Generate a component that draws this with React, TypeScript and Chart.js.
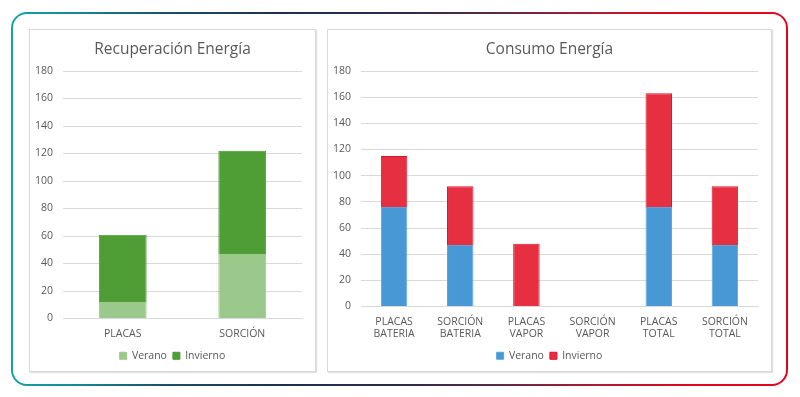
import React, { useEffect, useRef } from 'react';
import { Chart, registerables } from 'chart.js';

Chart.register(...registerables);

// ---- Data ----
const recTitle = 'Recuperación Energía';
const recCategories = ['PLACAS', 'SORCIÓN'];
const recVerano = [12, 47];
const recInvierno = [49, 75];

const conTitle = 'Consumo Energía';
const conCategories = [
  ['PLACAS', 'BATERIA'],
  ['SORCIÓN', 'BATERIA'],
  ['PLACAS', 'VAPOR'],
  ['SORCIÓN', 'VAPOR'],
  ['PLACAS', 'TOTAL'],
  ['SORCIÓN', 'TOTAL'],
];
const conVerano = [76, 47, 0, 0, 76, 47];
const conInvierno = [39, 45, 48, 0, 87, 45];

const seriesNames = ['Verano', 'Invierno'];
const yMax = 180;
const yStep = 20;

const FONT = "'Open Sans', 'Noto Sans', sans-serif";
const TEXT = '#595959';
const GRID = '#d9d9d9';

type PanelProps = {
  title: string;
  labels: any[];
  verano: number[];
  invierno: number[];
  colors: { verano: string; veranoBorder: string; invierno: string; inviernoBorder: string };
  width: number;
  height: number;
  xHeight: number;
};

function BarChart({ title, labels, verano, invierno, colors, width, height, xHeight }: PanelProps) {
  const ref = useRef<HTMLCanvasElement>(null);
  useEffect(() => {
    if (!ref.current) return;
    const bw = (c: any) => (c.raw ? 1 : 0);
    const chart = new Chart(ref.current, {
      type: 'bar',
      data: {
        labels,
        datasets: [
          {
            label: seriesNames[0],
            data: verano,
            backgroundColor: colors.verano,
            borderColor: colors.veranoBorder,
            borderWidth: bw,
            categoryPercentage: 0.8,
            barPercentage: 0.5,
          },
          {
            label: seriesNames[1],
            data: invierno,
            backgroundColor: colors.invierno,
            borderColor: colors.inviernoBorder,
            borderWidth: bw,
            categoryPercentage: 0.8,
            barPercentage: 0.5,
          },
        ],
      },
      options: {
        animation: false,
        responsive: false,
        maintainAspectRatio: false,
        layout: { padding: { left: 0, right: 0, top: 0, bottom: 0 } },
        plugins: {
          title: {
            display: true,
            text: title,
            color: TEXT,
            font: { family: FONT, size: 15.5, weight: 'normal' as any },
            padding: { top: 10, bottom: 12.4 },
          },
          legend: {
            position: 'bottom',
            labels: {
              color: TEXT,
              font: { family: FONT, size: 10.5 },
              boxWidth: 7,
              boxHeight: 7,
              padding: 6,
            },
          },
          tooltip: { enabled: false },
        },
        scales: {
          x: {
            stacked: true,
            grid: { display: false, drawTicks: false },
            border: { display: true, color: GRID, width: 1 },
            ticks: {
              color: TEXT,
              font: { family: FONT, size: 10.5, lineHeight: 1.15 },
              padding: 9,
              maxRotation: 0,
              autoSkip: false,
            },
            afterFit: (s: any) => {
              s.height = xHeight;
            },
          },
          y: {
            stacked: true,
            min: 0,
            max: yMax,
            grid: { color: GRID, drawTicks: false, lineWidth: 1 },
            border: { display: false },
            ticks: {
              stepSize: yStep,
              color: TEXT,
              font: { family: FONT, size: 10.5 },
              padding: 10,
            },
            afterFit: (s: any) => {
              s.width = 33;
            },
          },
          yRight: {
            type: 'linear',
            position: 'right',
            display: true,
            min: 0,
            max: yMax,
            grid: { display: false, drawTicks: false },
            border: { display: false },
            ticks: { display: false },
            afterFit: (s: any) => {
              s.width = 13;
            },
          },
        },
      },
    });
    return () => chart.destroy();
  }, []);
  return <canvas ref={ref} width={width} height={height} style={{ display: 'block', width, height }} />;
}

const green = { verano: '#9bc98b', veranoBorder: '#9bc98b', invierno: '#4e9e35', inviernoBorder: '#4a9a32' };
const blueRed = { verano: '#4798d4', veranoBorder: '#5aa5dc', invierno: '#e63042', inviernoBorder: '#e0102a' };

export default function App() {
  return (
    <div style={{ position: 'absolute', left: 0, top: 0, width: 800, height: 397, background: '#ffffff', overflow: 'hidden' }}>
      <div
        style={{
          position: 'absolute',
          left: 11,
          top: 12,
          width: 777,
          height: 374,
          boxSizing: 'border-box',
          borderRadius: 16,
          padding: 2,
          background:
            'linear-gradient(90deg, #14a3a6 0%, #168a98 8%, #1b4e68 20%, #1d2f50 35%, #2b2a4a 50%, #5a2a48 62%, #b01a32 76%, #e0081d 88%, #e3061b 100%)',
        }}
      >
        <div style={{ width: '100%', height: '100%', background: '#fff', borderRadius: 14 }} />
      </div>
      <div
        style={{
          position: 'absolute',
          left: 29,
          top: 29,
          width: 287,
          height: 343,
          boxSizing: 'border-box',
          border: '1px solid #d9d9d9',
          boxShadow: '1px 1px 1px rgba(0,0,0,0.12)',
          background: '#fff',
        }}
      >
        <BarChart
          title={recTitle}
          labels={recCategories}
          verano={recVerano}
          invierno={recInvierno}
          colors={green}
          width={285}
          height={341}
          xHeight={26}
        />
      </div>
      <div
        style={{
          position: 'absolute',
          left: 327,
          top: 29,
          width: 445,
          height: 343,
          boxSizing: 'border-box',
          border: '1px solid #d9d9d9',
          boxShadow: '1px 1px 1px rgba(0,0,0,0.12)',
          background: '#fff',
        }}
      >
        <BarChart
          title={conTitle}
          labels={conCategories}
          verano={conVerano}
          invierno={conInvierno}
          colors={blueRed}
          width={443}
          height={341}
          xHeight={38}
        />
      </div>
    </div>
  );
}
